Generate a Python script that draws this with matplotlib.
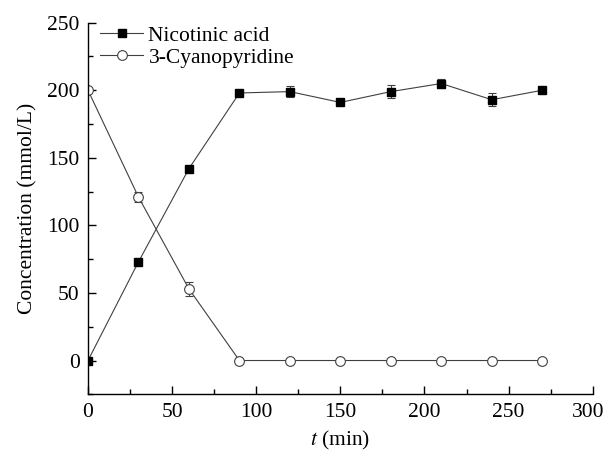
import matplotlib.pyplot as plt
from matplotlib.ticker import MultipleLocator, FuncFormatter

plt.rcParams['font.family'] = ['Liberation Serif', 'DejaVu Serif']
plt.rcParams['mathtext.fontset'] = 'stix'

# data
t = [0, 30, 60, 90, 120, 150, 180, 210, 240, 270]
nicotinic = [0, 73, 142, 198, 199, 191, 199, 205, 193, 200]
nicotinic_err = [0, 0, 0, 0, 4, 2, 5, 3, 5, 0]
cyano = [200, 121, 53, 0, 0, 0, 0, 0, 0, 0]
cyano_err = [0, 4, 5, 0, 0, 0, 0, 0, 0, 0]

FS = 15.5

fig = plt.figure(figsize=(6.06, 4.57), dpi=100)
ax = fig.add_axes([88 / 606, 1 - 394.3 / 457, (592.7 - 88) / 606, (394.3 - 22.7) / 457])

c1 = ax.errorbar(t, nicotinic, yerr=nicotinic_err, color='#404040', lw=0.8,
                 marker='s', ms=6, mfc='black', mec='black', ecolor='#404040',
                 elinewidth=0.8, capsize=3, capthick=0.8, label='Nicotinic acid')
c2 = ax.errorbar(t, cyano, yerr=cyano_err, color='#404040', lw=0.8,
                 marker='o', ms=7, mfc='white', mec='#404040', mew=0.8, ecolor='#404040',
                 elinewidth=0.8, capsize=3, capthick=0.8, label='3-Cyanopyridine')

ax.set_xlim(0, 300)
ax.set_ylim(-25, 250)
ax.xaxis.set_major_locator(MultipleLocator(50))
ax.xaxis.set_minor_locator(MultipleLocator(25))
ax.yaxis.set_major_locator(MultipleLocator(50))
ax.yaxis.set_minor_locator(MultipleLocator(25))
# 最右侧的 300 单独画，稍微左移，避免被裁切
ax.xaxis.set_major_formatter(FuncFormatter(lambda v, p: '' if v >= 300 else f'{v:g}'))
ax.tick_params(which='major', direction='in', length=6, width=1, labelsize=FS, pad=6)
ax.tick_params(which='minor', direction='in', length=3.5, width=1)
ax.annotate('300', xy=(1, 0), xycoords='axes fraction', xytext=(-3, -6),
            textcoords='offset points', ha='center', va='top', fontsize=FS)
ax.spines['top'].set_visible(False)
ax.spines['right'].set_visible(False)
for s in ['left', 'bottom']:
    ax.spines[s].set_linewidth(1)

ax.set_xlabel(r'$t$ (min)', fontsize=FS, labelpad=5)
ax.set_ylabel('Concentration (mmol/L)', fontsize=FS, labelpad=7)

ax.legend(handles=[c1[0], c2[0]], labels=['Nicotinic acid', '3-Cyanopyridine'],
          loc='upper left', bbox_to_anchor=(12 / 504.7, 1 - 3 / 371.6), frameon=False,
          fontsize=FS, handlelength=2.0, handletextpad=0.25, labelspacing=0.1,
          borderpad=0, borderaxespad=0)

fig.savefig('out.png', dpi=100, facecolor='white')
